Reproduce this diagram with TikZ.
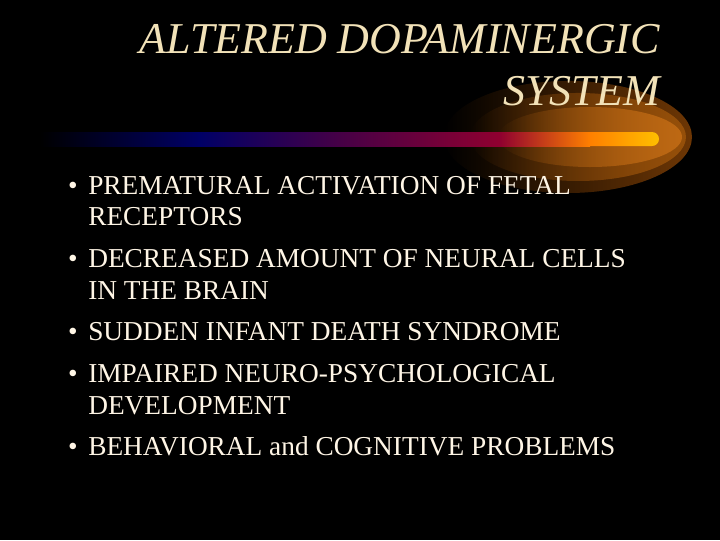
\documentclass[tikz,border=0pt]{standalone}
\usepackage{fontspec}
\setmainfont{Liberation Serif}
\usetikzlibrary{fadings}
\definecolor{titlec}{HTML}{F2E2B8}
\definecolor{textc}{HTML}{FFF6E6}
\tikzfading[name=fadeleft, left color=transparent!100, right color=transparent!0]
\tikzset{bul/.style={anchor=base west, text=textc, font=\fontsize{20.5pt}{22pt}\selectfont, inner sep=0},
 ttl/.style={anchor=base east, text=titlec, font=\fontsize{33pt}{35pt}\selectfont\itshape, inner sep=0}}
\begin{document}
\begin{tikzpicture}[x=0.75pt,y=-0.75pt]
\fill[black] (0,0) rectangle (720,540);
\useasboundingbox (0,0) rectangle (720,540);
\fill[path fading=fadeleft, color={rgb,255:red,110;green,55;blue,5}] (568,137) ellipse (124 and 56);
\fill[path fading=fadeleft, color={rgb,255:red,150;green,80;blue,10}] (578,137) ellipse (108 and 44);
\fill[path fading=fadeleft, color={rgb,255:red,190;green,105;blue,20}] (590,137) ellipse (92 and 30);
\shade[left color=black, right color=blue!40!black] (40,132) rectangle (200,146);
\shade[left color=blue!40!black, right color=violet!55!black] (199.5,132) rectangle (340,146);
\shade[left color=violet!55!black, right color=purple!75!black] (339.5,132) rectangle (500,146);
\shade[left color=purple!75!black, right color=orange] (499.5,132) rectangle (590,146);
\shade[left color=orange, right color=orange!50!yellow] (589.5,132) -- (652,132) arc (-90:90:7) -- (589.5,146) -- cycle;
\node[ttl] (t1) at (660,53) {ALTERED DOPAMINERGIC};
\node[ttl] (t2) at (660,105) {SYSTEM};
\foreach \y/\t [count=\i] in {194/PREMATURAL ACTIVATION OF FETAL, 267/DECREASED AMOUNT OF NEURAL CELLS, 340/SUDDEN INFANT DEATH SYNDROME, 382/IMPAIRED NEURO-PSYCHOLOGICAL, 455/BEHAVIORAL and COGNITIVE PROBLEMS}{
 \node[bul] (b\i) at (88,\y) {\t};
 \node[bul, anchor=base east] (d\i) at (78,\y) {\textbullet};
}
\node[bul] (c1) at (88,225) {RECEPTORS};
\node[bul] (c2) at (88,299) {IN THE BRAIN};
\node[bul] (c4) at (88,414) {DEVELOPMENT};
\end{tikzpicture}
\end{document}
